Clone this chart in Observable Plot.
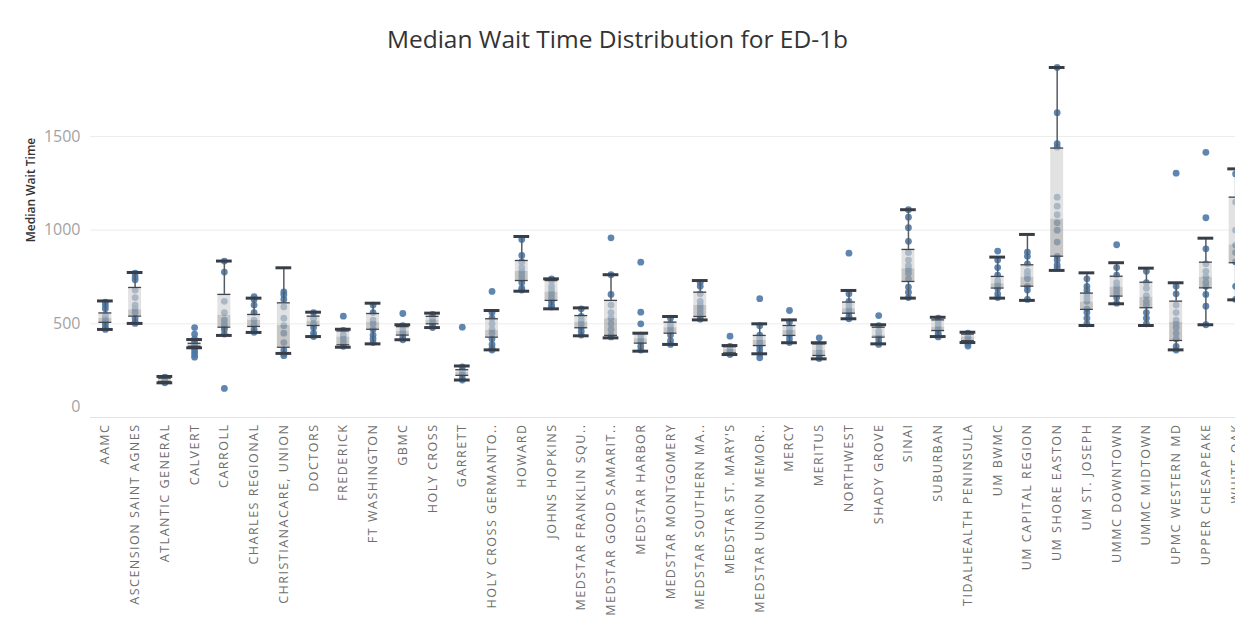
<!DOCTYPE html>
<html>
<head>
<meta charset="utf-8">
<script src="https://cdn.jsdelivr.net/npm/d3@7"></script>
<script src="https://cdn.jsdelivr.net/npm/@observablehq/plot@0.6"></script>
<style>
  html, body { margin: 0; padding: 0; background: #fff; overflow: hidden; width: 1235px; height: 619px; }
  #title { height: 55px; box-sizing: border-box; padding-top: 26px; line-height: 26px; text-align: center;
           font-family: "Open Sans", sans-serif; font-size: 24.5px; color: #333; width: 1235px; }
  #wrap { position: relative; width: 1235px; height: 564px; overflow: hidden; }
  #wrap svg { max-width: none !important; display: block; }
  #ylabel { position: absolute; left: 30px; top: 135px; transform: translate(-50%, -50%) rotate(-90deg);
            white-space: nowrap; font-family: "Open Sans", sans-serif; font-weight: 600; font-size: 12px; color: #333; z-index: 2; }
  svg [aria-label="x-axis tick label"] text { letter-spacing: 1.5px; }
</style>
</head>
<body>
<div id="title">Median Wait Time Distribution for ED-1b</div>
<div id="wrap"><div id="ylabel">Median Wait Time</div></div>
<script>
const categories = ["AAMC","ASCENSION SAINT AGNES","ATLANTIC GENERAL","CALVERT","CARROLL","CHARLES REGIONAL",
  "CHRISTIANACARE, UNION","DOCTORS","FREDERICK","FT WASHINGTON","GBMC","HOLY CROSS","GARRETT",
  "HOLY CROSS GERMANTO..","HOWARD","JOHNS HOPKINS","MEDSTAR FRANKLIN SQU..","MEDSTAR GOOD SAMARIT..",
  "MEDSTAR HARBOR","MEDSTAR MONTGOMERY","MEDSTAR SOUTHERN MA..","MEDSTAR ST. MARY'S","MEDSTAR UNION MEMOR..",
  "MERCY","MERITUS","NORTHWEST","SHADY GROVE","SINAI","SUBURBAN","TIDALHEALTH PENINSULA","UM BWMC",
  "UM CAPITAL REGION","UM SHORE EASTON","UM ST. JOSEPH","UMMC DOWNTOWN","UMMC MIDTOWN","UPMC WESTERN MD",
  "UPPER CHESAPEAKE","WHITE OAK"];
const whiskerLow  = [470,502,185,372,438,454,342,432,375,393,415,480,200,361,674,580,436,425,354,390,521,336,340,399,313,527,393,637,432,400,637,625,785,491,607,491,361,495,628];
const q1          = [508,541,192,380,482,486,375,491,388,471,440,500,225,429,731,625,479,438,397,450,539,345,384,438,331,557,429,726,464,410,691,701,861,577,648,586,411,692,826];
const median      = [530,575,200,388,545,518,491,515,430,509,460,520,240,465,780,669,509,527,420,479,598,362,411,464,358,580,438,794,482,430,714,749,1060,616,696,642,509,749,922];
const q3          = [558,694,210,396,657,550,612,541,462,555,485,540,255,527,838,731,544,625,448,509,669,378,438,491,393,616,482,897,521,445,753,815,1438,664,754,722,621,829,1176];
const whiskerHigh = [622,774,219,416,835,637,799,562,471,610,495,557,275,571,966,740,585,762,450,539,731,384,500,521,399,678,495,1109,535,455,856,977,1868,772,826,797,719,957,1327];
const points = [
  [615,598,580,545,525,510,495,478,470],
  [770,750,735,680,640,600,580,560,530,510,502],
  [215,200,190,185],
  [480,445,420,405,392,380,365,350,335,322],
  [835,776,620,560,520,500,485,470,445,155],
  [645,630,600,560,520,495,470,455],
  [670,655,630,590,530,490,450,400,360,340,330],
  [560,530,500,480,450,432],
  [541,465,440,420,400,380],
  [600,560,520,500,470,440,420,400],
  [555,490,470,450,430,415],
  [550,530,510,490,480],
  [482,270,250,230,210,200],
  [673,560,530,500,470,450,420,390,370,360],
  [950,865,830,800,780,760,740,720,690,680],
  [740,730,700,680,660,640,620,600,590],
  [580,540,520,500,480,460,440],
  [959,762,657,600,560,530,500,470,440,430],
  [829,562,500,440,420,400,380,360],
  [530,500,480,460,440,410,390],
  [720,700,660,620,600,580,560,540,525],
  [434,380,360,345,336],
  [634,490,440,420,400,380,360,340,319],
  [571,510,480,460,440,420,400],
  [425,390,370,350,330,315],
  [877,660,620,600,580,560,540,527],
  [544,490,460,440,420,400,390],
  [1109,1069,1013,940,880,840,810,790,770,740,696,669,640],
  [530,510,490,470,450,440,430],
  [450,430,410,395,381],
  [888,840,800,760,730,710,690,660,640],
  [883,860,820,780,760,740,700,680,630],
  [1868,1627,1461,1443,1176,1128,1082,1039,1000,936,860,840,815,800],
  [740,700,680,660,640,620,580,560,530,500],
  [922,800,760,720,700,680,660,640,610],
  [780,720,690,650,620,600,560,530,500],
  [1304,700,660,600,560,520,500,480,450,420,380,360],
  [1415,1066,900,820,780,750,720,700,657,594,495],
  [1300,1150,1000,920,880,830,700,630]
];
const yTicks = [500, 1000, 1500];

const rows = categories.map((c, i) => ({cat: c, low: whiskerLow[i], q1: q1[i], med: median[i], q3: q3[i], high: whiskerHigh[i]}));
const dots = categories.flatMap((c, i) => points[i].map(v => ({cat: c, v})));

const boxInset = 8.4, capInset = 7;
const fmt = d => String(d);
const chart = Plot.plot({
  width: 1260, height: 564,
  marginLeft: 90, marginRight: 10, marginTop: 6, marginBottom: 202,
  x: {type: "band", domain: categories, padding: 0, round: false, label: null},
  y: {domain: [0, 1900], label: null},
  style: {fontFamily: "'Open Sans', sans-serif", fontSize: "12px", background: "#fff", overflow: "visible", maxWidth: "none"},
  marks: [
    Plot.gridY(yTicks, {stroke: "#ececec", strokeOpacity: 1}),
    Plot.ruleY([0], {stroke: "#e2e2e2"}),
    Plot.axisY(yTicks, {tickSize: 0, tickPadding: 10, fill: "#a3a3a3", fontSize: 16, label: null, tickFormat: fmt}),
    Plot.axisY([0], {tickSize: 0, tickPadding: 10, dy: -11, fill: "#a3a3a3", fontSize: 16, label: null, tickFormat: fmt}),
    Plot.axisX({tickRotate: -90, tickSize: 0, tickPadding: 6, fill: "#6e6e6e", fontSize: 12.5, label: null}),
    Plot.dot(dots, {x: "cat", y: "v", r: 3.4, fill: "#4e79a7", fillOpacity: 0.9}),
    Plot.ruleX(rows, {x: "cat", y1: "low", y2: "q1", stroke: "#555b63", strokeWidth: 1.5}),
    Plot.ruleX(rows, {x: "cat", y1: "q3", y2: "high", stroke: "#555b63", strokeWidth: 1.5}),
    Plot.barY(rows, {x: "cat", y1: "q1", y2: "med", fill: "#a8a8a8", fillOpacity: 0.65, insetLeft: boxInset, insetRight: boxInset}),
    Plot.barY(rows, {x: "cat", y1: "med", y2: "q3", fill: "#d2d2d2", fillOpacity: 0.65, insetLeft: boxInset, insetRight: boxInset}),
    Plot.tickY(rows, {x: "cat", y: "q1", stroke: "#3f444c", strokeWidth: 1.3, insetLeft: boxInset, insetRight: boxInset}),
    Plot.tickY(rows, {x: "cat", y: "q3", stroke: "#3f444c", strokeWidth: 1.3, insetLeft: boxInset, insetRight: boxInset}),
    Plot.tickY(rows, {x: "cat", y: "low", stroke: "#383e48", strokeWidth: 3, insetLeft: capInset, insetRight: capInset}),
    Plot.tickY(rows, {x: "cat", y: "high", stroke: "#383e48", strokeWidth: 3, insetLeft: capInset, insetRight: capInset})
  ]
});
document.getElementById("wrap").appendChild(chart);
</script>
</body>
</html>
